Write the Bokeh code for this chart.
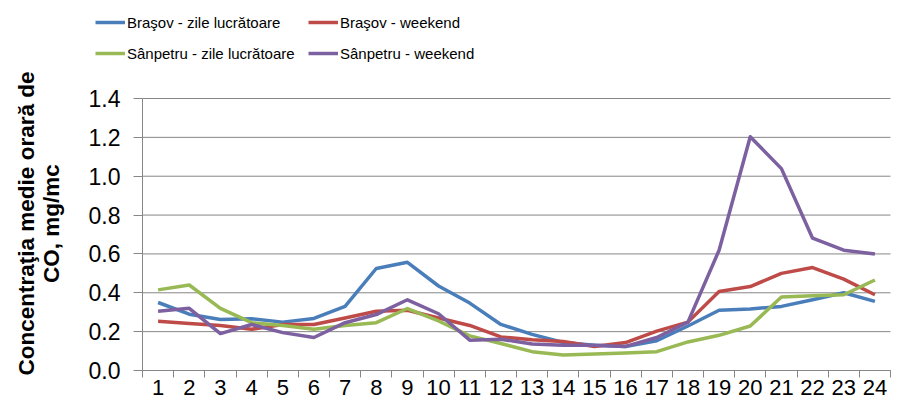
import math
from bokeh.plotting import figure
from bokeh.models import (ColumnDataSource, Legend, LegendItem, FixedTicker,
                          NumeralTickFormatter, Range1d, Label)
from bokeh.embed import file_html
from bokeh.resources import INLINE

hours = list(range(1, 25))
brasov_lucr = [0.35, 0.29, 0.263, 0.266, 0.249, 0.268, 0.33, 0.525, 0.557, 0.435,
               0.347, 0.237, 0.186, 0.144, 0.13, 0.124, 0.153, 0.229, 0.31, 0.317,
               0.33, 0.364, 0.40, 0.356]
brasov_wk = [0.254, 0.242, 0.232, 0.212, 0.237, 0.237, 0.27, 0.305, 0.31, 0.27,
             0.232, 0.173, 0.158, 0.149, 0.124, 0.144, 0.203, 0.249, 0.407, 0.432,
             0.50, 0.53, 0.47, 0.39]
sanpetru_lucr = [0.415, 0.44, 0.32, 0.246, 0.232, 0.212, 0.232, 0.246, 0.319, 0.255,
                 0.178, 0.139, 0.097, 0.08, 0.085, 0.09, 0.097, 0.147, 0.181, 0.229,
                 0.378, 0.385, 0.39, 0.466]
sanpetru_wk = [0.305, 0.32, 0.19, 0.237, 0.195, 0.17, 0.246, 0.288, 0.364, 0.292,
               0.156, 0.161, 0.136, 0.13, 0.13, 0.124, 0.17, 0.249, 0.619, 1.203,
               1.039, 0.681, 0.619, 0.60]
series_names = ["Braşov - zile lucrătoare", "Braşov - weekend",
                "Sânpetru - zile lucrătoare", "Sânpetru - weekend"]
y_label_lines = ["Concentraţia medie orară de", "CO, mg/mc"]
colors = ["#4A7EBB", "#BE4B48", "#98B954", "#7D60A0"]
y_ticks = [0.0, 0.2, 0.4, 0.6, 0.8, 1.0, 1.2, 1.4]

W, H = 891, 404
# pixel layout of the plot area inside the canvas
left_px, right_px, top_px, bottom_px = 142, 890, 98, 370
x_lo, x_hi = hours[0] - 0.5, hours[-1] + 0.5
y_lo, y_hi = y_ticks[0], y_ticks[-1]
sx = (right_px - left_px) / (x_hi - x_lo)
sy = (bottom_px - top_px) / (y_hi - y_lo)
x_range = Range1d(x_lo - left_px / sx, x_lo + (W - left_px) / sx)
y_range = Range1d(y_lo - (H - bottom_px) / sy, y_hi + top_px / sy)

src = ColumnDataSource(dict(x=hours, a=brasov_lucr, b=brasov_wk, c=sanpetru_lucr, d=sanpetru_wk))

p = figure(width=W, height=H, output_backend="svg", toolbar_location=None,
           x_range=x_range, y_range=y_range, min_border=0)
p.outline_line_color = None
p.background_fill_color = "white"
p.xgrid.grid_line_color = None
p.ygrid.grid_line_color = None

# horizontal gridlines over the plot area only
p.segment(x0=[x_lo] * len(y_ticks), x1=[x_hi] * len(y_ticks), y0=y_ticks, y1=y_ticks,
          line_color="#868686", line_width=1)

renderers = []
for col, c in zip(["a", "b", "c", "d"], colors):
    r = p.line("x", col, source=src, line_color=c, line_width=3.5, line_join="round")
    renderers.append(r)

# x axis
xa = p.xaxis[0]
xa.fixed_location = y_lo
xa.bounds = (x_lo, x_hi)
xa.ticker = FixedTicker(ticks=hours, minor_ticks=[h - 0.5 for h in hours] + [x_hi])
xa.major_tick_out = 0
xa.major_tick_in = 0
xa.minor_tick_out = 7
xa.minor_tick_in = 0
xa.minor_tick_line_color = "#868686"
xa.axis_line_color = "#868686"
xa.major_label_text_font = "Liberation Sans"
xa.major_label_text_font_size = "22px"
xa.major_label_text_color = "#000000"
xa.major_label_standoff = 2

# y axis
ya = p.yaxis[0]
ya.fixed_location = x_lo
ya.bounds = (y_lo, y_hi)
ya.ticker = FixedTicker(ticks=y_ticks, minor_ticks=[])
ya.formatter = NumeralTickFormatter(format="0.0")
ya.major_tick_out = 9
ya.major_tick_in = 0
ya.minor_tick_out = 0
ya.major_tick_line_color = "#868686"
ya.axis_line_color = "#868686"
ya.major_label_text_font = "Liberation Sans"
ya.major_label_text_font_size = "23px"
ya.major_label_text_color = "#000000"
ya.major_label_standoff = 13

for txt, xpos in zip(y_label_lines, [26, 51]):
    p.add_layout(Label(x=xpos, y=H - 223, x_units="screen", y_units="screen", text=txt,
                       angle=math.pi / 2, text_align="center", text_baseline="middle",
                       text_font="Liberation Sans", text_font_style="bold",
                       text_font_size="22.5px", text_color="#000000"))

items = [LegendItem(label=n, renderers=[r]) for n, r in zip(series_names, renderers)]
legend = Legend(items=items, orientation="horizontal", ncols=2, location=(95, H - 64),
                padding=0, margin=0, spacing=9, glyph_width=30, glyph_height=22,
                label_height=22, label_width=172, label_standoff=2,
                label_text_font="Liberation Sans",
                label_text_font_size="15px", label_text_color="#000000",
                border_line_alpha=0, background_fill_alpha=0)
p.add_layout(legend, "center")

open("out.html", "w").write(file_html(p, INLINE))
